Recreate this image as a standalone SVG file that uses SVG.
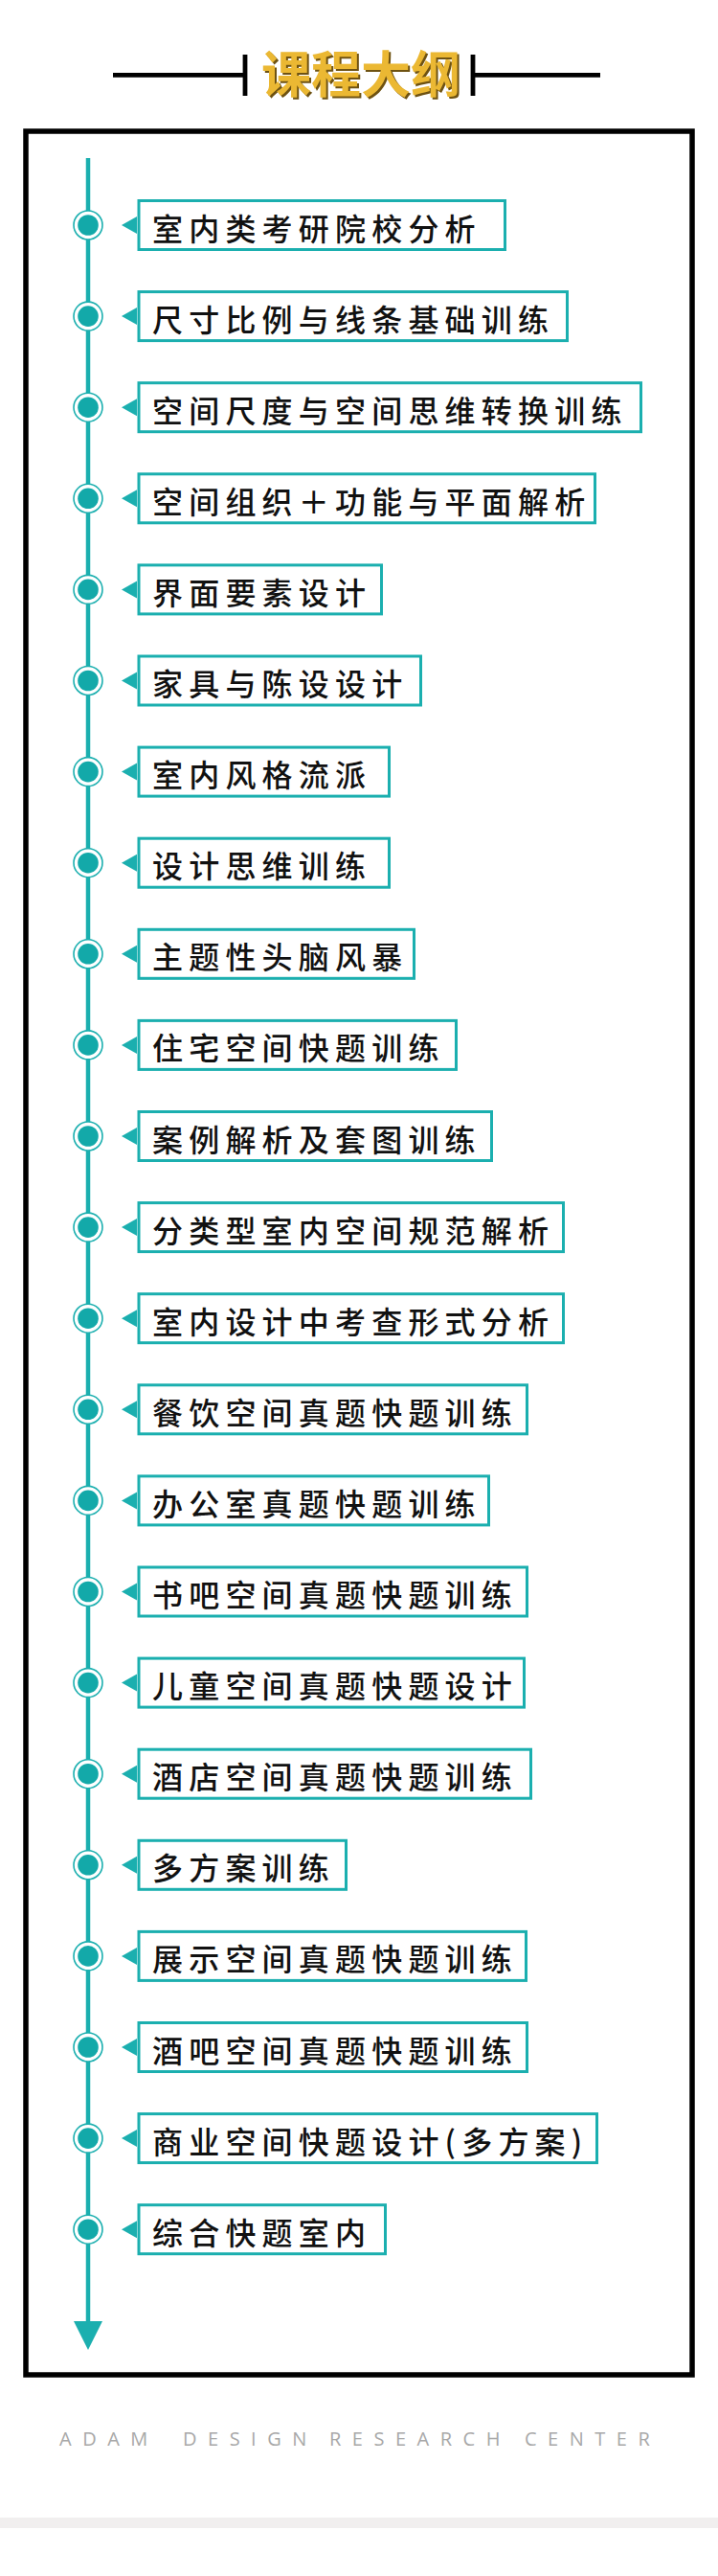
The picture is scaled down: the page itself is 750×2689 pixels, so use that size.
<svg xmlns="http://www.w3.org/2000/svg" width="750" height="2689" viewBox="0 0 750 2689">
<style>
.box{fill:#fff;stroke:#1BAFAF;stroke-width:3}
.ring{fill:#fff;stroke:#1BAFAF;stroke-width:1.6}
.dot{fill:#13A9A9}
.tri{fill:#1BAFAF}
.lbl{font-family:"Noto Sans CJK SC","Noto Sans",sans-serif;font-size:32px;font-weight:500;letter-spacing:6.2px;fill:#111;dominant-baseline:central}
.hdr{stroke:#000;stroke-width:4.8;fill:none}
.ttl{font-family:"Noto Sans CJK SC",sans-serif;font-weight:bold;font-size:52px;dominant-baseline:central}
.ft{font-family:"Open Sans","Liberation Sans",sans-serif;font-size:20px;letter-spacing:11.5px;fill:#A8A8A8}
</style>
<rect x="0" y="0" width="750" height="2689" fill="#fff"/>
<g id="header">
<line class="hdr" x1="118" y1="78.3" x2="256" y2="78.3"/>
<line class="hdr" x1="256" y1="57" x2="256" y2="100"/>
<line class="hdr" x1="494" y1="78.3" x2="627" y2="78.3"/>
<line class="hdr" x1="494" y1="57" x2="494" y2="100"/>
<text class="ttl" x="275" y="76.5" fill="#6E5212">课程大纲</text>
<text class="ttl" x="273" y="74.5" fill="#EBB833">课程大纲</text>
</g>
<rect id="frame" x="27" y="137" width="696" height="2342" fill="none" stroke="#000" stroke-width="5.5"/>
<g id="connectors">
<line x1="92" y1="165" x2="92" y2="2426" stroke="#1BAFAF" stroke-width="4.5"/>
<polygon points="77,2423 107,2423 92,2453" fill="#1BAFAF"/>
</g>
<g id="n1"><circle class="ring" cx="92" cy="235" r="15"/><circle class="dot" cx="92" cy="235" r="10.8"/><polygon class="tri" points="127,235 143,226 143,244"/><rect class="box" x="145" y="209.5" width="382.5" height="51"/><text class="lbl" x="159" y="236.5">室内类考研院校分析</text></g>
<g id="n2"><circle class="ring" cx="92" cy="330.1" r="15"/><circle class="dot" cx="92" cy="330.1" r="10.8"/><polygon class="tri" points="127,330.1 143,321.1 143,339.1"/><rect class="box" x="145" y="304.6" width="447.5" height="51"/><text class="lbl" x="159" y="331.6">尺寸比例与线条基础训练</text></g>
<g id="n3"><circle class="ring" cx="92" cy="425.2" r="15"/><circle class="dot" cx="92" cy="425.2" r="10.8"/><polygon class="tri" points="127,425.2 143,416.2 143,434.2"/><rect class="box" x="145" y="399.7" width="524.5" height="51"/><text class="lbl" x="159" y="426.7">空间尺度与空间思维转换训练</text></g>
<g id="n4"><circle class="ring" cx="92" cy="520.3" r="15"/><circle class="dot" cx="92" cy="520.3" r="10.8"/><polygon class="tri" points="127,520.3 143,511.3 143,529.3"/><rect class="box" x="145" y="494.8" width="476.5" height="51"/><text class="lbl" x="159" y="521.8">空间组织＋功能与平面解析</text></g>
<g id="n5"><circle class="ring" cx="92" cy="615.4" r="15"/><circle class="dot" cx="92" cy="615.4" r="10.8"/><polygon class="tri" points="127,615.4 143,606.4 143,624.4"/><rect class="box" x="145" y="589.9" width="253.5" height="51"/><text class="lbl" x="159" y="616.9">界面要素设计</text></g>
<g id="n6"><circle class="ring" cx="92" cy="710.5" r="15"/><circle class="dot" cx="92" cy="710.5" r="10.8"/><polygon class="tri" points="127,710.5 143,701.5 143,719.5"/><rect class="box" x="145" y="685" width="294.5" height="51"/><text class="lbl" x="159" y="712">家具与陈设设计</text></g>
<g id="n7"><circle class="ring" cx="92" cy="805.6" r="15"/><circle class="dot" cx="92" cy="805.6" r="10.8"/><polygon class="tri" points="127,805.6 143,796.6 143,814.6"/><rect class="box" x="145" y="780.1" width="261.5" height="51"/><text class="lbl" x="159" y="807.1">室内风格流派</text></g>
<g id="n8"><circle class="ring" cx="92" cy="900.7" r="15"/><circle class="dot" cx="92" cy="900.7" r="10.8"/><polygon class="tri" points="127,900.7 143,891.7 143,909.7"/><rect class="box" x="145" y="875.2" width="261.5" height="51"/><text class="lbl" x="159" y="902.2">设计思维训练</text></g>
<g id="n9"><circle class="ring" cx="92" cy="995.8" r="15"/><circle class="dot" cx="92" cy="995.8" r="10.8"/><polygon class="tri" points="127,995.8 143,986.8 143,1004.8"/><rect class="box" x="145" y="970.3" width="287.5" height="51"/><text class="lbl" x="159" y="997.3">主题性头脑风暴</text></g>
<g id="n10"><circle class="ring" cx="92" cy="1090.9" r="15"/><circle class="dot" cx="92" cy="1090.9" r="10.8"/><polygon class="tri" points="127,1090.9 143,1081.9 143,1099.9"/><rect class="box" x="145" y="1065.4" width="331.5" height="51"/><text class="lbl" x="159" y="1092.4">住宅空间快题训练</text></g>
<g id="n11"><circle class="ring" cx="92" cy="1186" r="15"/><circle class="dot" cx="92" cy="1186" r="10.8"/><polygon class="tri" points="127,1186 143,1177 143,1195"/><rect class="box" x="145" y="1160.5" width="368.5" height="51"/><text class="lbl" x="159" y="1187.5">案例解析及套图训练</text></g>
<g id="n12"><circle class="ring" cx="92" cy="1281.1" r="15"/><circle class="dot" cx="92" cy="1281.1" r="10.8"/><polygon class="tri" points="127,1281.1 143,1272.1 143,1290.1"/><rect class="box" x="145" y="1255.6" width="443.5" height="51"/><text class="lbl" x="159" y="1282.6">分类型室内空间规范解析</text></g>
<g id="n13"><circle class="ring" cx="92" cy="1376.2" r="15"/><circle class="dot" cx="92" cy="1376.2" r="10.8"/><polygon class="tri" points="127,1376.2 143,1367.2 143,1385.2"/><rect class="box" x="145" y="1350.7" width="443.5" height="51"/><text class="lbl" x="159" y="1377.7">室内设计中考查形式分析</text></g>
<g id="n14"><circle class="ring" cx="92" cy="1471.3" r="15"/><circle class="dot" cx="92" cy="1471.3" r="10.8"/><polygon class="tri" points="127,1471.3 143,1462.3 143,1480.3"/><rect class="box" x="145" y="1445.8" width="405.5" height="51"/><text class="lbl" x="159" y="1472.8">餐饮空间真题快题训练</text></g>
<g id="n15"><circle class="ring" cx="92" cy="1566.4" r="15"/><circle class="dot" cx="92" cy="1566.4" r="10.8"/><polygon class="tri" points="127,1566.4 143,1557.4 143,1575.4"/><rect class="box" x="145" y="1540.9" width="365.5" height="51"/><text class="lbl" x="159" y="1567.9">办公室真题快题训练</text></g>
<g id="n16"><circle class="ring" cx="92" cy="1661.5" r="15"/><circle class="dot" cx="92" cy="1661.5" r="10.8"/><polygon class="tri" points="127,1661.5 143,1652.5 143,1670.5"/><rect class="box" x="145" y="1636" width="405.5" height="51"/><text class="lbl" x="159" y="1663">书吧空间真题快题训练</text></g>
<g id="n17"><circle class="ring" cx="92" cy="1756.6" r="15"/><circle class="dot" cx="92" cy="1756.6" r="10.8"/><polygon class="tri" points="127,1756.6 143,1747.6 143,1765.6"/><rect class="box" x="145" y="1731.1" width="402.5" height="51"/><text class="lbl" x="159" y="1758.1">儿童空间真题快题设计</text></g>
<g id="n18"><circle class="ring" cx="92" cy="1851.7" r="15"/><circle class="dot" cx="92" cy="1851.7" r="10.8"/><polygon class="tri" points="127,1851.7 143,1842.7 143,1860.7"/><rect class="box" x="145" y="1826.2" width="409.5" height="51"/><text class="lbl" x="159" y="1853.2">酒店空间真题快题训练</text></g>
<g id="n19"><circle class="ring" cx="92" cy="1946.8" r="15"/><circle class="dot" cx="92" cy="1946.8" r="10.8"/><polygon class="tri" points="127,1946.8 143,1937.8 143,1955.8"/><rect class="box" x="145" y="1921.3" width="216.5" height="51"/><text class="lbl" x="159" y="1948.3">多方案训练</text></g>
<g id="n20"><circle class="ring" cx="92" cy="2041.9" r="15"/><circle class="dot" cx="92" cy="2041.9" r="10.8"/><polygon class="tri" points="127,2041.9 143,2032.9 143,2050.9"/><rect class="box" x="145" y="2016.4" width="404.5" height="51"/><text class="lbl" x="159" y="2043.4">展示空间真题快题训练</text></g>
<g id="n21"><circle class="ring" cx="92" cy="2137" r="15"/><circle class="dot" cx="92" cy="2137" r="10.8"/><polygon class="tri" points="127,2137 143,2128 143,2146"/><rect class="box" x="145" y="2111.5" width="405.5" height="51"/><text class="lbl" x="159" y="2138.5">酒吧空间真题快题训练</text></g>
<g id="n22"><circle class="ring" cx="92" cy="2232.1" r="15"/><circle class="dot" cx="92" cy="2232.1" r="10.8"/><polygon class="tri" points="127,2232.1 143,2223.1 143,2241.1"/><rect class="box" x="145" y="2206.6" width="478.5" height="51"/><text class="lbl" x="159" y="2233.6">商业空间快题设计(多方案)</text></g>
<g id="n23"><circle class="ring" cx="92" cy="2327.2" r="15"/><circle class="dot" cx="92" cy="2327.2" r="10.8"/><polygon class="tri" points="127,2327.2 143,2318.2 143,2336.2"/><rect class="box" x="145" y="2301.7" width="257.5" height="51"/><text class="lbl" x="159" y="2328.7">综合快题室内</text></g>
<g id="footer">
<text class="ft" x="62" y="2553">ADAM</text>
<text class="ft" x="191" y="2553">DESIGN</text>
<text class="ft" x="344" y="2553">RESEARCH</text>
<text class="ft" x="548" y="2553">CENTER</text>
<rect x="0" y="2628" width="750" height="11" fill="#F1EFEF"/>
</g>
</svg>
